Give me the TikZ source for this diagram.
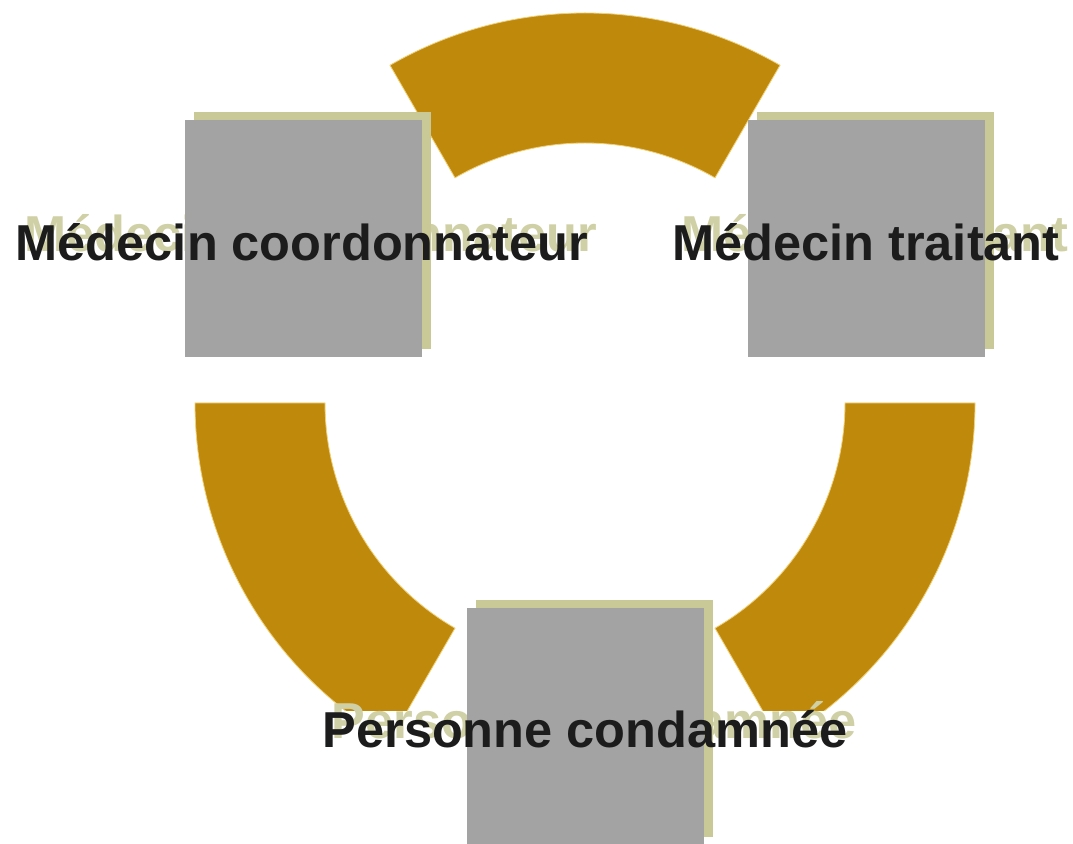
\documentclass[tikz,border=0pt]{standalone}
\usepackage{fontspec}
\setmainfont{Liberation Sans}
\usetikzlibrary{shadows}
\definecolor{ringgold}{RGB}{191,137,11}
\definecolor{ringedge}{RGB}{240,208,120}
\definecolor{boxgray}{RGB}{163,163,163}
\definecolor{shadekhaki}{RGB}{201,201,152}
\definecolor{textkhaki}{RGB}{208,208,166}
\definecolor{labelink}{RGB}{28,28,28}
\begin{document}
\begin{tikzpicture}[
        x=1pt, y=1pt,
        ring/.style={fill=ringgold, draw=ringedge, line width=0.8pt},
        card/.style={rectangle, fill=boxgray, minimum size=237pt, inner sep=0pt,
            drop shadow={shadow xshift=9pt, shadow yshift=8pt, fill=shadekhaki, opacity=1}},
        lbltext/.style={inner sep=0pt, anchor=base, font=\bfseries\fontsize{50.5}{60}\selectfont},
        lblbg/.style={lbltext, fill=white, text=white},
        lblshade/.style={lbltext, text=textkhaki},
        lbl/.style={lbltext, text=labelink}
    ]
        \useasboundingbox (0,0) rectangle (1073,843);
        \coordinate (ctr) at (585,440);

        \begin{scope}[shift={(ctr)}]
            \foreach \a/\b in {60/120, 180/240, 300/360}
                \draw[ring] (\a:390) arc[start angle=\a, end angle=\b, radius=390]
                    -- (\b:260) arc[start angle=\b, end angle=\a, radius=260] -- cycle;
        \end{scope}

        \node[lblbg] (coord-bg) at (302,582) {Médecin coordonnateur};
        \node[lblbg] (treat-bg) at (866,582) {Médecin traitant};
        \node[lblbg] (pers-bg) at (585,95) {Personne condamnée};

        \node[lblshade] (coord-shade) at (311,591) {Médecin coordonnateur};
        \node[lblshade] (treat-shade) at (875,591) {Médecin traitant};
        \node[lblshade] (pers-shade) at (594,104) {Personne condamnée};

        \node[card] (coord) at (303.5,604) {};
        \node[card] (treat) at (866.5,604) {};
        \node[card] (pers) at (585.5,116.5) {};

        \node[lbl] (coord-txt) at (302,582) {Médecin coordonnateur};
        \node[lbl] (treat-txt) at (866,582) {Médecin traitant};
        \node[lbl] (pers-txt) at (585,95) {Personne condamnée};
\end{tikzpicture}
\end{document}
